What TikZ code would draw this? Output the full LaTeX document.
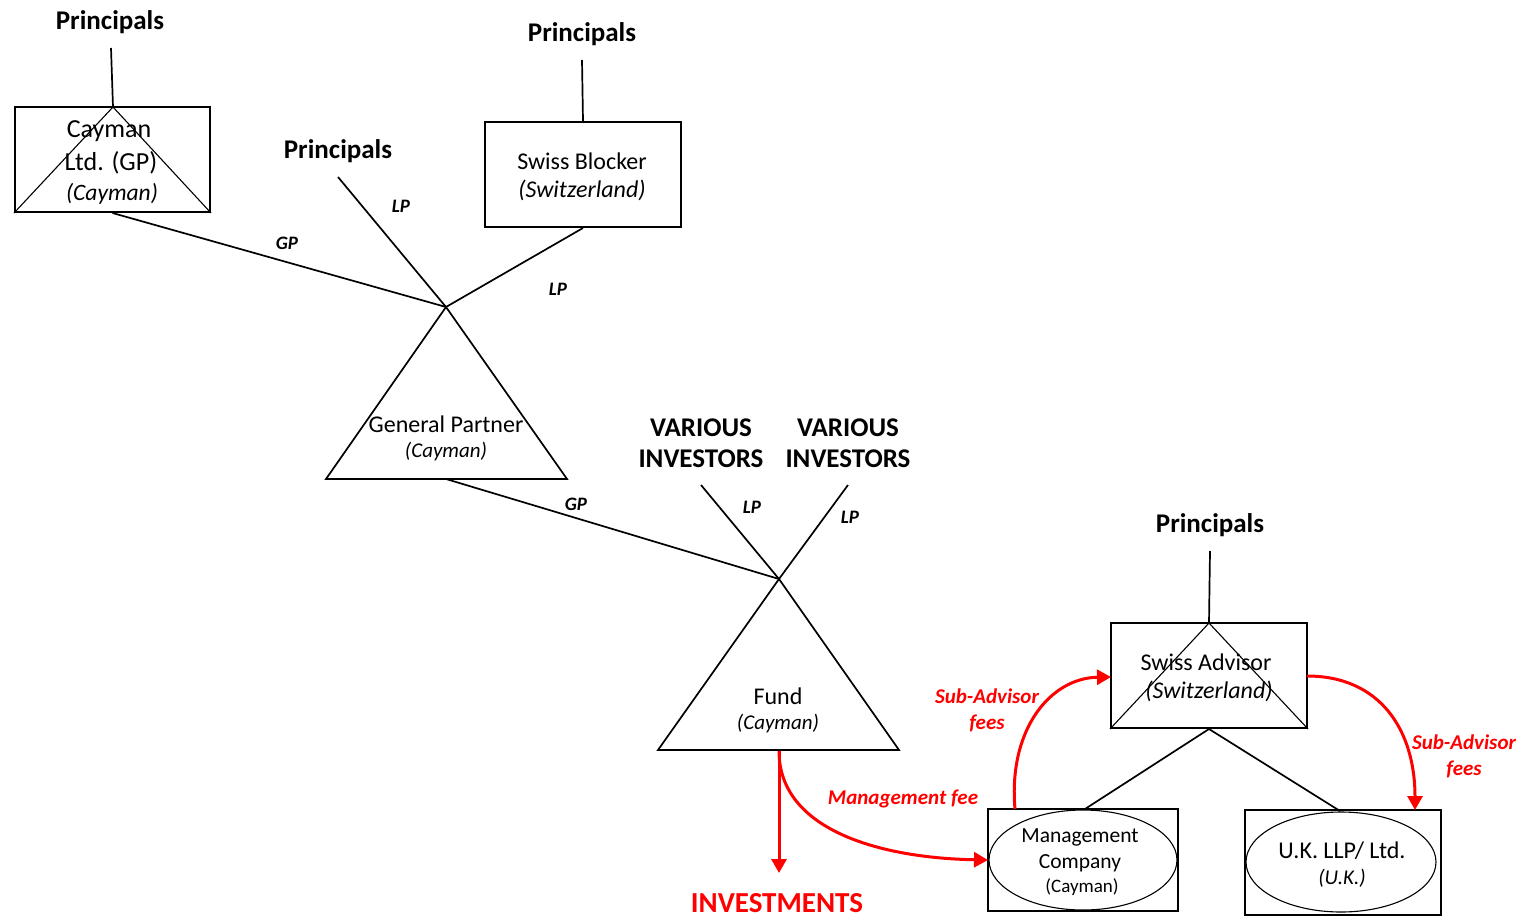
\documentclass[tikz,border=0pt]{standalone}
\usepackage{fontspec}
\setmainfont{Carlito}
\usetikzlibrary{arrows.meta}
\definecolor{fee}{RGB}{255,0,0}
\tikzset{
  blk/.style={line width=1.7pt},
  thin/.style={line width=1.1pt},
  boxx/.style={draw, line width=2pt, inner sep=0pt},
  prin/.style={font=\fontsize{27}{29}\selectfont\bfseries, inner sep=1pt, yshift=-1.5pt},
  lbl/.style={font=\fontsize{19}{21}\selectfont\bfseries\itshape, inner sep=0pt},
  txt/.style={font=\fontsize{24}{28}\selectfont, inner sep=0pt, yshift=-1pt},
  itxt/.style={font=\fontsize{21}{24}\selectfont\itshape, inner sep=0pt, yshift=-1pt},
  redarr/.style={draw=fee, line width=3pt, -{Triangle[length=14pt,width=15pt]}},
  redlbl/.style={font=\fontsize{21}{26}\selectfont\bfseries\itshape, text=fee, inner sep=0pt, align=center, yshift=-1.5pt},
}
\begin{document}
\begin{tikzpicture}[x=1pt,y=-1pt]
\useasboundingbox (0,0) rectangle (1521,918);

% ---- Cayman Ltd (GP)
\node[prin] (p1) at (110,21) {Principals};
\node[boxx, minimum width=195pt, minimum height=105pt] (cay) at (112.5,159.5) {};
\coordinate (cayA) at (113,107);
\draw[thin] (cayA) -- (cay.south west) (cayA) -- (cay.south east);
\node[font=\fontsize{26}{28}\selectfont, inner sep=0pt, yshift=-1pt] (cayT1) at (109,130) {Cayman};
\node[font=\fontsize{26}{28}\selectfont, inner sep=0pt, yshift=-1pt] (cayT2) at (111,162) {Ltd. (GP)};
\node[font=\fontsize{23.5}{26}\selectfont\itshape, inner sep=0pt, yshift=-1pt] (cayT3) at (112,193) {(Cayman)};
\coordinate (p1b) at (111,48);
\draw[blk] (p1b) -- (cayA);

% ---- Swiss Blocker
\node[prin] (p2) at (582,33) {Principals};
\node[boxx, minimum width=196pt, minimum height=105pt] (sb) at (583,174.5) {};
\node[txt] (sbT1) at (582,160) {Swiss Blocker};
\node[txt, font=\fontsize{24}{28}\selectfont\itshape] (sbT2) at (582,189) {(Switzerland)};
\coordinate (p2b) at (582,60);
\draw[blk] (p2b) -- (sb.north);

% ---- Principals 3
\node[prin] (p3) at (338,150) {Principals};
\coordinate (p3b) at (338,177);

% ---- General Partner triangle
\coordinate (gpA) at (446,307);
\coordinate (gpL) at (326,479);
\coordinate (gpR) at (567,479);
\coordinate (gpB) at (446,479);
\draw[blk, line join=miter] (gpA) -- (gpL) -- (gpR) -- cycle;
\node[txt] (gpT1) at (446,423) {General Partner};
\node[itxt] (gpT2) at (446,451) {(Cayman)};

\draw[blk] (cay.south) -- (gpA);
\draw[blk] (sb.south) -- (gpA);
\draw[blk] (p3b) -- (gpA);
\node[lbl] at (287,243) {GP};
\node[lbl] at (401,206) {LP};
\node[lbl] at (558,289) {LP};

% ---- Various investors
\node[prin, align=center, font=\fontsize{27}{31}\selectfont\bfseries] (vi1) at (701,442) {VARIOUS\\INVESTORS};
\node[prin, align=center, font=\fontsize{27}{31}\selectfont\bfseries] (vi2) at (848,442) {VARIOUS\\INVESTORS};
\coordinate (vi1b) at (701,485);
\coordinate (vi2b) at (848,485);

% ---- Fund triangle
\coordinate (fA) at (779,579);
\coordinate (fL) at (658,750);
\coordinate (fR) at (899,750);
\coordinate (fB) at (779,751);
\draw[blk, line join=miter] (fA) -- (fL) -- (fR) -- cycle;
\node[txt] (fT1) at (778,695) {Fund};
\node[itxt] (fT2) at (778,723) {(Cayman)};

\draw[blk] (gpB) -- (fA);
\draw[blk] (vi1b) -- (fA);
\draw[blk] (vi2b) -- (fA);
\node[lbl] at (576,504) {GP};
\node[lbl] at (752,507) {LP};
\node[lbl] at (850,517) {LP};

% ---- Investments
\node[font=\fontsize{29}{31}\selectfont\bfseries, text=fee, inner sep=0pt] (inv) at (777,903) {INVESTMENTS};
\coordinate (invT) at (779,873);
\draw[redarr] (fB) -- (invT);

% ---- Swiss Advisor
\node[prin] (p4) at (1210,524) {Principals};
\node[boxx, minimum width=196pt, minimum height=105pt] (sa) at (1209,675.5) {};
\coordinate (saA) at (1209,623);
\draw[thin] (saA) -- (sa.south west) (saA) -- (sa.south east);
\node[txt] (saT1) at (1206,661) {Swiss Advisor};
\node[txt, font=\fontsize{24}{28}\selectfont\itshape] (saT2) at (1209,690) {(Switzerland)};
\coordinate (p4b) at (1210,551);
\draw[blk] (p4b) -- (saA);

% ---- Management Company
\node[boxx, minimum width=190pt, minimum height=102pt] (mc) at (1083,860) {};
\draw[thin] (1083,860) ellipse (94pt and 50pt);
\node[font=\fontsize{21.5}{26}\selectfont, inner sep=0pt, yshift=-1pt] (mcT1) at (1080,836) {Management};
\node[font=\fontsize{21.5}{26}\selectfont, inner sep=0pt, yshift=-1pt] (mcT2) at (1080,862) {Company};
\node[font=\fontsize{19}{21}\selectfont, inner sep=0pt, yshift=-1pt] (mcT3) at (1082,886) {(Cayman)};

% ---- UK
\node[boxx, minimum width=196pt, minimum height=105pt] (uk) at (1343,862.5) {};
\draw[thin] (1341,862) ellipse (95pt and 50pt);
\node[txt] (ukT1) at (1342,850) {U.K. LLP/ Ltd.};
\node[itxt] (ukT2) at (1342,877) {(U.K.)};

\coordinate (mcTop) at (1085,809);
\coordinate (ukTop) at (1340,811);
\draw[blk] (sa.south) -- (mcTop);
\draw[blk] (sa.south) -- (ukTop);

% ---- red fee arrows
\coordinate (mcL) at (988,860);
\draw[redarr] (fB) .. controls (779,830) and (880,858) .. (mcL);
\node[redlbl] at (903,797) {Management fee};

\coordinate (mcS) at (1015,809);
\coordinate (saL) at (1111,677);
\draw[redarr] (mcS) .. controls (1008,730) and (1050,678) .. (saL);
\node[redlbl] at (987,709) {Sub-Advisor\\fees};

\coordinate (saR) at (1307,676);
\coordinate (ukS) at (1415,810);
\draw[redarr] (saR) .. controls (1380,676) and (1415,730) .. (ukS);
\node[redlbl] at (1464,755) {Sub-Advisor\\fees};
\end{tikzpicture}
\end{document}
